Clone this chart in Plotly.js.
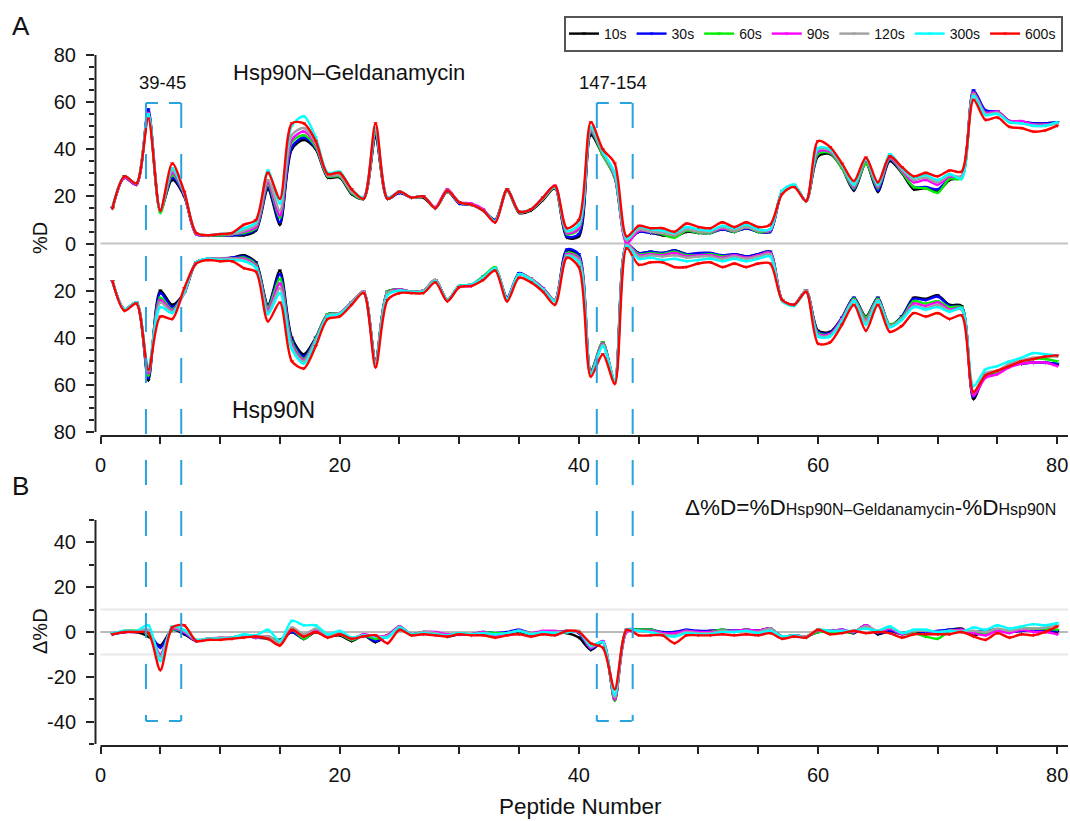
<!DOCTYPE html>
<html><head><meta charset="utf-8">
<script src="https://cdn.plot.ly/plotly-3.0.1.min.js"></script>
<style>html,body{margin:0;padding:0;background:#fff;overflow:hidden;} #chart{width:1070px;height:821px;}</style>
</head><body><div id="chart"></div>
<script>
// ---------------- DATA ----------------
const peptides = Array.from({length: 80}, (_, i) => i + 1);
const times = ['10s', '30s', '60s', '90s', '120s', '300s', '600s'];

// %D, Hsp90N–Geldanamycin (upper half)
const gel10 = [15,28,25,56,14,27,20,4,3.5,3.5, 3.5,3.5,5.5,23,8,40,44,40,28,28, 21,19,45,19,21.5,19.5,19.5,15,22,17, 16.5,14,10,22.5,13,14,18.5,23.5,2.5,3, 46,37.5,28,1,5,4.5,3.5,3,5,4.5, 4.5,6,5,6.5,5,5,22,24.5,18,37, 38,32,22.5,34,22,35,30,23,23.5,22, 27,28,64.5,56,56,52,51.5,51,51,51.5];
const gel30 = [15,28,25,57,14,28,20.5,4,3.5,3.5, 3.5,4,6,24,9,41,45,40.5,28.5,28.5, 21.5,19,46,19,21.5,19.5,20,15,22.5,17, 16.5,14,10,23,13.5,14.5,19,24,3,4, 47,38,28.5,1.5,5,4.5,4,3,5.5,4.5, 4.5,6,5,6.5,5,5,22,24.5,18,38, 38.5,32.5,23,34.5,22.5,35.5,30.5,24,24,23, 27.5,28,65,56.5,56,52,51.5,51,51,51.5];
const gel60 = [15,28.5,25.5,55,13,29,21,4,3.5,3.5, 4,4.5,6.5,25,11,43,46,41,28.5,28.5, 21.5,19,47,19,22,19.5,20,15,22.5,17.5, 16.5,14,9.5,23,13.5,14.5,19,24,4,6, 47.5,37.5,28,1,5.5,5,4,2.5,5.5,4.5, 4.5,6.5,5,7,5,5.5,22,24.5,18,38, 38.5,32,23.5,34,23.5,36,30.5,24,23.5,21.5, 27.5,27.5,64,55.5,55.5,51.5,51.5,50.5,50.5,51];
const gel90 = [15.5,28,25,55.5,14,30,21,4,3.5,4, 4,5,7,26,12,44,47.5,42,29,29, 22,19.5,48,19.5,22,19.5,20,15.5,23,17.5, 17,14.5,9,23,13.5,14.5,19.5,24.5,4.5,6.5, 48,38.5,28.5,0,5.5,5,4.5,3.5,6,5, 5,6.5,5.5,7,5.5,5.5,22,24.5,18,39, 39,33,24,35.5,24,36.5,31,26,27,25, 28.5,28.5,64,55.5,56,52,52,50.5,50.5,51];
const gel120 = [15,28.5,25.5,55,14,31,21.5,4.5,3.5,4, 4,5.5,8,27,14,46,49,42.5,29,29, 22,19,48.5,19,22,19.5,20,15,22.5,17.5, 16.5,14,9.5,23,13.5,14.5,19,24,5,7.5, 48.5,38.5,29,1.5,6,5,4.5,3.5,6,5, 5,7,5.5,7,5.5,6,22,24.5,18,40, 39.5,33,24.5,35.5,24.5,37,31.5,27,28,26, 29,28.5,63.5,55,55.5,51.5,51,50,50,51];
const gel300 = [15.5,28.5,25.5,55,14,32,21.5,4.5,3.5,4, 4.5,6.5,9,31,17,50,54,45,30,30.5, 23,19.5,49,19.5,22,19.5,20,15,22.5,17.5, 16.5,14,9.5,23,13.5,14.5,19.5,24,5.5,8, 49.5,39,30,2,7,6,5.5,4.5,7,6, 5.5,7.5,6.5,8,6,6,22.5,25,18,40.5, 40,33.5,25,36,25,38,32,28,29,27, 29.5,27.5,62.5,54.5,55,51.5,51,50,50,51.5];
const gel600 = [15,28.5,25.5,53,14,34,22,4.5,3.5,4, 4.5,8,10,30,19,51,51,43.5,29.5,30, 23,19,51,19,22,19.5,20,15,22.5,17.5, 16.5,14,9,23,13.5,14.5,19.5,24.5,6.5,10, 51.5,40,34,3,7.5,6.5,6.5,5,8.5,7, 6.5,9,7,9,7,8,21,24,18,43.5, 41,34,26.5,36.5,26,37,32.5,28.5,30,28.5, 31,30.5,61,52.5,53.5,49.5,49,47.5,48,50];

// %D, Hsp90N (lower half, drawn downward)
const apo10 = [16,28,25,58,20,26,21,8,6.5,6.5, 6,5,8,26,11.5,40,47,40,30,29.5, 25,20.5,49.5,20.5,19.5,20.5,20,15.5,24,18, 17.5,15,11,23,13,15,19,24,3,5.5, 54,42,58.5,0.5,4,3.5,4,3,4.5,4.5, 4,5.5,4.5,5.5,4.5,3.5,24,26,20,37, 37.5,31.5,23,31,23,34.5,31,23,23.5,22, 26,26.5,66,55.5,55,52,51,50.5,50.5,51.5];
const apo30 = [16,28,25,57,21,27,21,8,6.5,6.5, 6,5.5,8.5,26.5,13,41,48,40,30,29.5, 25,20.5,50,20.5,19.5,20.5,20,15.5,24,18, 17.5,14,10.5,23,12.5,15,19,24,2.5,4.5, 54.5,42.5,58.5,0.5,4,3.5,4,3,4.5,4, 4,5,4.5,5.5,4.5,3.5,24,26,20,37.5, 38,31.5,23,31.5,23,35,31,23.5,24,22.5, 26.5,27,65,56,55,52,51,50.5,50.5,51];
const apo60 = [16,28,25,56,23,28,21,8,6.5,6.5, 6.5,6,9,27,15,42,49,40.5,30,29.5, 25,20.5,50,20.5,19.5,20.5,20,15.5,24,18, 17.5,14,10,23.5,13,15,19,24,4,6, 54.5,42,58.5,0.5,4.5,4,4.5,3.5,5,5, 4.5,5.5,5,6,5,4,24,26,20,38, 38.5,32,23.5,31.5,23.5,34.5,31.5,24.5,25.5,24.5, 27,27,64,56,54.5,51.5,50,49,49,50];
const apo90 = [16,28,25,55,24,28.5,21,8,6.5,6.5, 6.5,6.5,9.5,28,17,43,49.5,41,30.5,29.5, 25,20.5,50,21,19.5,20.5,20,15.5,24,18.5, 18,14.5,10.5,23.5,13,15,19,24,4.5,6.5, 55,42.5,58.5,0,5,4.5,5,4,5.5,5, 5,6,5,6,5,4,24,26,20,38.5, 38.5,32,24,32.5,24,35,32,25.5,26.5,25, 28,27.5,64.5,57,55.5,52.5,51,50.5,50.5,52];
const apo120 = [16,28,25,54,25,29,21,8,6.5,6.5, 6.5,7,10,29,19,44,50,41,30.5,29.5, 25,20.5,50.5,21,20,20.5,20,15.5,24,18, 17.5,14.5,10.5,23.5,13,15,19.5,24,5,7, 55,43,58,0.5,5.5,5,5.5,5,6,5.5, 5.5,6.5,5.5,6.5,5.5,4.5,24,26,20,39, 39,32.5,24,33,24,35,32,26.5,27.5,26, 28.5,28,63,55,54,51,49.5,48.5,48,48];
const apo300 = [16,28,25,52,27,29.5,20.5,8,6.5,7, 7,7.5,10.5,30,21,45,51,42,31,30, 25.5,21,51,22,20,20.5,20.5,16,24,18, 17.5,14.5,10.5,23.5,13,15.5,19.5,24.5,5.5,8, 55.5,43.5,58,1,6.5,6,7,6.5,7.5,7, 6.5,7.5,6.5,7.5,6.5,5.5,24.5,26.5,20.5,39.5, 39.5,33,24.5,34.5,24.5,35.5,32.5,27,28,27, 29,27.5,60.5,53.5,52,50,48.5,46.5,47,47.5];
const apo600 = [16,28.5,25.5,53.5,31,32,19,8.5,7,7.5, 7.5,10.5,12,33,25,50,53,43.5,32,31, 26,21,52.5,24,21,21,21,16.5,24.5,18.5, 18,15.5,11.5,24.5,14.5,16.5,20.5,26,6,10, 56.5,47,59.5,2,9,8,8,10,10,8.5, 8,10,8.5,10,8.5,8.5,24,26,20.5,42.5, 42,34.5,26,37,26,37.5,35,29.5,31,29.5, 32,30.5,63,56,54,52,50,49,48,47.5];

// axis tick labels
const topTickVals = [-80, -60, -40, -20, 0, 20, 40, 60, 80];
const topTickText = ['80', '60', '40', '20', '0', '20', '40', '60', '80'];
const botTickVals = [-40, -20, 0, 20, 40];
const botTickText = ['-40', '-20', '0', '20', '40'];
const xTickVals = [0, 20, 40, 60, 80];
// highlighted regions (peptide-number span) and their labels
const regionLabels = ['39-45', '147-154'];
const regionSpans = [[3.8, 6.75], [41.5, 44.5]];

// ---------------- STYLE / LAYOUT ----------------
const gel = [gel10, gel30, gel60, gel90, gel120, gel300, gel600];
const apo = [apo10, apo30, apo60, apo90, apo120, apo300, apo600];
const colors = ['#000000', '#0000ff', '#00ee00', '#ff00ff', '#a0a0a0', '#00ffff', '#ff0000'];
const W = 1070, H = 821;
const F = 'Liberation Sans, Arial, sans-serif';
const px = v => v / W;
const py = v => 1 - v / H;

const traces = [];
times.forEach((t, i) => {
  const common = {
    mode: 'lines+markers', legendgroup: t, name: t,
    line: {color: colors[i], width: 2.4, shape: 'spline', smoothing: 0.8},
    marker: {symbol: 'triangle-down', size: 4, color: colors[i]},
    hoverinfo: 'x+y+name'
  };
  traces.push(Object.assign({}, common, {x: peptides, y: gel[i], xaxis: 'x', yaxis: 'y', showlegend: true}));
  traces.push(Object.assign({}, common, {x: peptides, y: apo[i].map(v => -v), xaxis: 'x', yaxis: 'y', showlegend: false}));
  traces.push(Object.assign({}, common, {x: peptides, y: gel[i].map((v, k) => v - apo[i][k]), xaxis: 'x2', yaxis: 'y2', showlegend: false}));
});

const axisFont = {family: F, size: 20, color: '#111'};
const xDomain = [px(95), px(1068)];
const xRange = [-0.46, 80.9];
function xAxis(anchor) {
  return {
    domain: xDomain, range: xRange, anchor: anchor,
    tickmode: 'array', tickvals: xTickVals, ticks: 'outside', ticklen: 7, tickwidth: 2, tickcolor: '#222',
    minor: {tickmode: 'linear', tick0: 0, dtick: 5, ticks: 'outside', ticklen: 7, tickwidth: 2, tickcolor: '#222', showgrid: false},
    showgrid: false, zeroline: false, showline: false, tickfont: axisFont, ticklabelstandoff: 4
  };
}

const shapes = [];
// axis lines
shapes.push({type: 'line', xref: 'paper', yref: 'y', x0: px(95.5), x1: px(95.5), y0: -80, y1: 80, line: {color: '#222', width: 2}});
shapes.push({type: 'line', xref: 'x', yref: 'paper', x0: 0, x1: 80.9, y0: py(436), y1: py(436), line: {color: '#222', width: 2}});
shapes.push({type: 'line', xref: 'paper', yref: 'y2', x0: px(95.5), x1: px(95.5), y0: -50, y1: 50, line: {color: '#222', width: 2}});
shapes.push({type: 'line', xref: 'x2', yref: 'paper', x0: 0, x1: 80.9, y0: py(746), y1: py(746), line: {color: '#222', width: 2}});
// reference lines
shapes.push({type: 'line', xref: 'x', yref: 'y', x0: 0, x1: 80.9, y0: 0, y1: 0, layer: 'below', line: {color: '#c4c4c4', width: 2}});
shapes.push({type: 'line', xref: 'x2', yref: 'y2', x0: 0, x1: 80.9, y0: 10, y1: 10, layer: 'below', line: {color: '#e8e8e8', width: 2}});
shapes.push({type: 'line', xref: 'x2', yref: 'y2', x0: 0, x1: 80.9, y0: -10, y1: -10, layer: 'below', line: {color: '#e8e8e8', width: 2}});
shapes.push({type: 'line', xref: 'x2', yref: 'y2', x0: 0, x1: 80.9, y0: 0, y1: 0, layer: 'below', line: {color: '#b8b8b8', width: 2}});
// dashed region boxes
const boxLine = {color: '#29a3dd', width: 2, dash: '25px,26px'};
const boxLineH = {color: '#29a3dd', width: 2, dash: '12px,11px'};
regionSpans.forEach(([a, b]) => {
  [a, b].forEach(xv => shapes.push({type: 'line', xref: 'x', yref: 'paper', x0: xv, x1: xv, y0: py(103), y1: py(721), line: boxLine}));
  shapes.push({type: 'line', xref: 'x', yref: 'paper', x0: a, x1: b, y0: py(103), y1: py(103), line: boxLineH});
  shapes.push({type: 'line', xref: 'x', yref: 'paper', x0: a, x1: b, y0: py(721), y1: py(721), line: boxLineH});
});

function ann(text, x, y, size, extra) {
  return Object.assign({text: text, xref: 'paper', yref: 'paper', x: px(x), y: py(y), xanchor: 'center', yanchor: 'middle',
    showarrow: false, font: {family: F, size: size, color: '#111'}}, extra || {});
}
const annotations = [
  ann('A', 21, 26, 26),
  ann('B', 20, 486, 26),
  ann('%D', 40, 238, 20, {textangle: -90}),
  ann('\u0394%D', 40, 631, 20, {textangle: -90}),
  ann('Peptide Number', 580, 806, 22.5),
  ann('Hsp90N\u2013Geldanamycin', 349, 73, 22),
  ann('Hsp90N', 273, 410, 23),
  ann(regionLabels[0], 162, 82, 18.5),
  ann(regionLabels[1], 613, 82, 18.5),
  ann('\u0394%D=%D<span style="font-size:16px">Hsp90N\u2013Geldanamycin</span>-%D<span style="font-size:16px">Hsp90N</span>', 1058, 508, 22.5, {xanchor: 'right'})
];

const layout = {
  width: W, height: H,
  margin: {l: 0, r: 0, t: 0, b: 0, autoexpand: false},
  paper_bgcolor: '#fff', plot_bgcolor: 'rgba(0,0,0,0)',
  font: {family: F, color: '#111'},
  showlegend: true,
  legend: {
    orientation: 'h', x: px(1063), y: py(16), xanchor: 'right', yanchor: 'top',
    bordercolor: '#555', borderwidth: 2, bgcolor: '#fff',
    font: {family: F, size: 14, color: '#111'}, itemwidth: 30, tracegroupgap: 0
  },
  xaxis: xAxis('y'),
  xaxis2: xAxis('y2'),
  yaxis: {
    domain: [py(436), py(55)], range: [-81.7, 80], anchor: 'x',
    tickmode: 'array', tickvals: topTickVals, ticktext: topTickText,
    ticks: 'outside', ticklen: 8, tickwidth: 2, tickcolor: '#222',
    minor: {tickmode: 'linear', tick0: 0, dtick: 5, ticks: 'outside', ticklen: 5, tickwidth: 2, tickcolor: '#222', showgrid: false},
    showgrid: false, zeroline: false, showline: false, tickfont: axisFont, ticklabelstandoff: 6
  },
  yaxis2: {
    domain: [py(746), py(520)], range: [-50.9, 50], anchor: 'x2',
    tickmode: 'array', tickvals: botTickVals, ticktext: botTickText,
    ticks: 'outside', ticklen: 8, tickwidth: 2, tickcolor: '#222',
    minor: {tickmode: 'linear', tick0: 0, dtick: 10, ticks: 'outside', ticklen: 5, tickwidth: 2, tickcolor: '#222', showgrid: false},
    showgrid: false, zeroline: false, showline: false, tickfont: axisFont, ticklabelstandoff: 6
  },
  shapes: shapes,
  annotations: annotations
};

Plotly.newPlot('chart', traces, layout, {displayModeBar: false, staticPlot: true});
</script>
</body></html>
